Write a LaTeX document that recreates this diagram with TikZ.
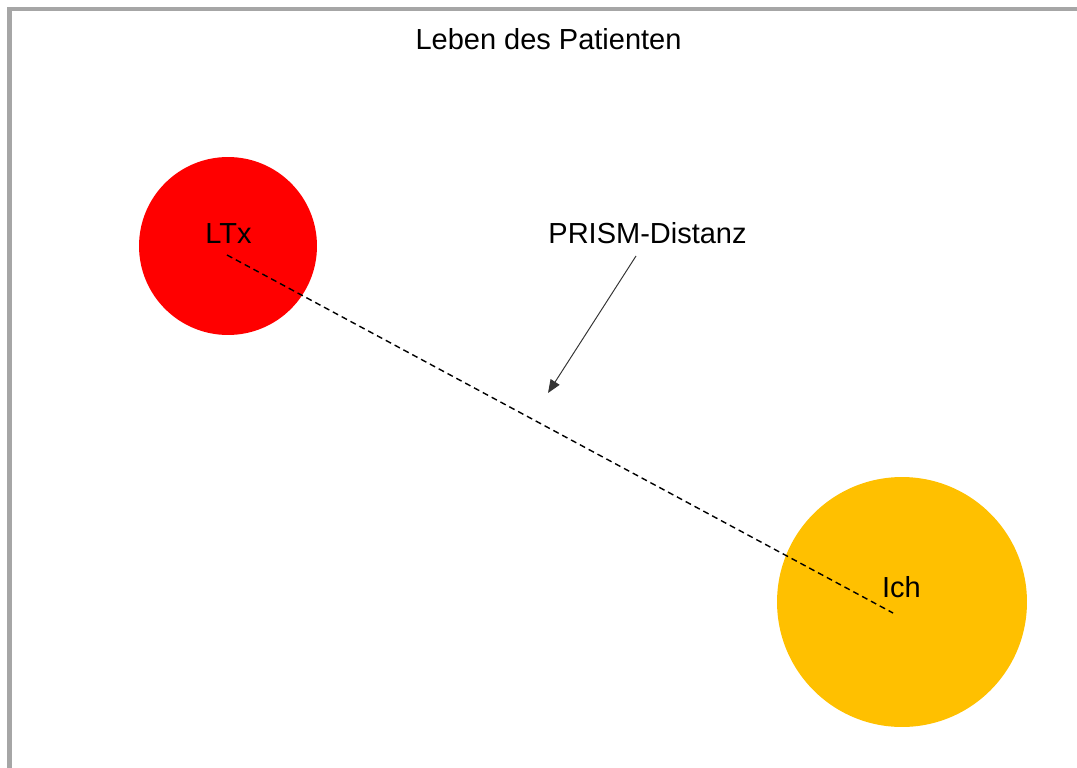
\documentclass[tikz,border=0pt]{standalone}
\usepackage{fontspec}
\setmainfont{Liberation Sans}
\usetikzlibrary{arrows.meta}
\definecolor{framegray}{HTML}{A6A6A6}
\definecolor{ltxred}{HTML}{FF0000}
\definecolor{ichgold}{HTML}{FFC000}
\begin{document}
\begin{tikzpicture}[x=0.02cm,y=-0.02cm]
  \tikzstyle{every node}+=[inner sep=0pt, font=\fontsize{16.5}{19}\selectfont]
  \tikzstyle{blob}=[circle, draw=none]
  \clip (0,0) rectangle (1077,767);
  \draw [framegray, line width=2.3pt] (9.5,780) -- (9.5,9) -- (1090,9);
  \node (title) at (548.5,39.5) {Leben des Patienten};
  \node [blob, fill=ltxred, minimum size=3.56cm] (ltx) at (228,246) {};
  \node (ltxlabel) at (228.5,233.5) {LTx};
  \node [blob, fill=ichgold, minimum size=5cm] (ich) at (902,602) {};
  \node (ichlabel) at (901.5,587.5) {Ich};
  \coordinate (ltxpt) at (227,255);
  \coordinate (ichpt) at (893,613);
  \draw [black, line width=0.8pt, dash pattern=on 3.4pt off 2.3pt] (ltxpt) -- (ichpt);
  \node (prism) at (647.5,233.5) {PRISM-Distanz};
  \coordinate (arrowstart) at (636,256);
  \coordinate (arrowtip) at (548,393);
  \draw [black!80, line width=0.55pt, -{Triangle[length=7.5pt,width=6pt]}] (arrowstart) -- (arrowtip);
\end{tikzpicture}
\end{document}
